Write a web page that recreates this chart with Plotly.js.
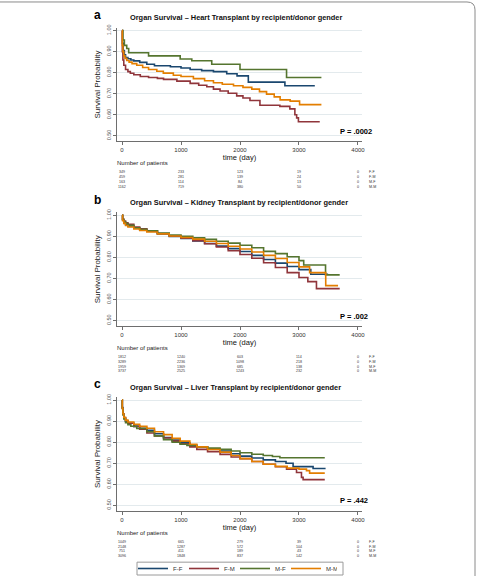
<!DOCTYPE html>
<html>
<head>
<meta charset="utf-8">
<script src="https://cdn.plot.ly/plotly-3.0.1.min.js"></script>
<style>
  html, body { margin: 0; padding: 0; background: #ffffff; }
  #chart { width: 477px; height: 583px; }
</style>
</head>
<body>
<div id="chart"></div>
<script>
// Recipient/donor gender groups and their line colours
const groups = ['F-F', 'F-M', 'M-F', 'M-M'];
const colors = ['#1a476f', '#90353b', '#55752f', '#e37e00'];
const organs = ['Heart', 'Kidney', 'Liver'];
const panelLetters = ['a', 'b', 'c'];
const pValues = ['P = .0002', 'P = .002', 'P = .442'];
const riskTimes = [0, 1000, 2000, 3000, 4000];
const yTicks = [0.5, 0.6, 0.7, 0.8, 0.9, 1.0];
const xTicks = [0, 1000, 2000, 3000, 4000];

// Heart transplant: Kaplan-Meier step points (time in days, survival)
const heartT_FF = [0, 8, 20, 40, 60, 100, 150, 200, 300, 420, 550, 820, 1000, 1155, 1350, 1550, 1775, 1950, 2141, 2761, 3268];
const heartS_FF = [1.0, 0.94, 0.905, 0.885, 0.872, 0.866, 0.86, 0.856, 0.849, 0.84, 0.833, 0.828, 0.822, 0.815, 0.81, 0.805, 0.795, 0.785, 0.755, 0.738, 0.738];
const heartT_FM = [0, 5, 15, 30, 60, 100, 141, 200, 310, 450, 600, 704, 930, 1155, 1300, 1437, 1550, 1662, 1800, 1944, 2050, 2169, 2338, 2676, 2845, 2930, 2960, 2990, 3352];
const heartS_FM = [1.0, 0.9, 0.86, 0.835, 0.815, 0.805, 0.797, 0.79, 0.782, 0.777, 0.773, 0.768, 0.76, 0.749, 0.74, 0.733, 0.722, 0.713, 0.702, 0.69, 0.68, 0.668, 0.645, 0.64, 0.628, 0.6, 0.585, 0.567, 0.567];
const heartT_MF = [0, 15, 40, 80, 113, 450, 986, 1183, 1521, 2000, 2789, 3380];
const heartS_MF = [1.0, 0.955, 0.93, 0.915, 0.895, 0.88, 0.865, 0.857, 0.84, 0.815, 0.777, 0.777];
const heartT_MM = [0, 5, 15, 30, 50, 80, 120, 170, 250, 350, 450, 590, 700, 870, 1000, 1210, 1400, 1550, 1700, 1890, 2050, 2200, 2330, 2450, 2580, 2680, 2850, 3010, 3380];
const heartS_MM = [1.0, 0.93, 0.9, 0.88, 0.868, 0.858, 0.85, 0.843, 0.835, 0.825, 0.815, 0.807, 0.798, 0.788, 0.782, 0.772, 0.762, 0.752, 0.745, 0.738, 0.73, 0.722, 0.71, 0.698, 0.685, 0.671, 0.665, 0.648, 0.648];

// Kidney transplant
const kidneyT_FF = [0, 10, 30, 60, 100, 200, 300, 420, 600, 800, 1000, 1200, 1400, 1600, 1800, 2000, 2200, 2400, 2600, 2800, 3000, 3200, 3480];
const kidneyS_FF = [1.0, 0.978, 0.966, 0.957, 0.95, 0.94, 0.932, 0.925, 0.912, 0.9, 0.89, 0.878, 0.866, 0.854, 0.842, 0.828, 0.81, 0.79, 0.773, 0.757, 0.742, 0.72, 0.717];
const kidneyT_FM = [0, 10, 30, 60, 100, 200, 300, 420, 600, 800, 1000, 1200, 1400, 1600, 1800, 2000, 2200, 2400, 2600, 2800, 3000, 3150, 3296, 3690];
const kidneyS_FM = [1.0, 0.982, 0.973, 0.965, 0.958, 0.945, 0.936, 0.927, 0.914, 0.902, 0.892, 0.879, 0.865, 0.85, 0.832, 0.814, 0.796, 0.775, 0.752, 0.728, 0.705, 0.685, 0.652, 0.652];
const kidneyT_MF = [0, 10, 30, 60, 100, 200, 300, 420, 600, 800, 1000, 1200, 1400, 1600, 1800, 2000, 2200, 2400, 2600, 2800, 3000, 3080, 3450, 3690];
const kidneyS_MF = [1.0, 0.98, 0.97, 0.961, 0.953, 0.941, 0.934, 0.927, 0.916, 0.907, 0.9, 0.893, 0.886, 0.877, 0.868, 0.858, 0.846, 0.829, 0.818, 0.803, 0.785, 0.764, 0.717, 0.717];
const kidneyT_MM = [0, 10, 30, 60, 100, 200, 300, 420, 600, 800, 1000, 1200, 1400, 1600, 1800, 2000, 2200, 2400, 2600, 2800, 3000, 3180, 3453, 3662];
const kidneyS_MM = [1.0, 0.975, 0.962, 0.952, 0.945, 0.935, 0.928, 0.921, 0.912, 0.902, 0.895, 0.887, 0.877, 0.866, 0.853, 0.84, 0.826, 0.81, 0.795, 0.776, 0.755, 0.728, 0.666, 0.666];

// Liver transplant
const liverT_FF = [0, 5, 15, 30, 60, 100, 200, 300, 422, 550, 704, 850, 986, 1150, 1268, 1450, 1662, 1850, 2000, 2200, 2394, 2600, 2780, 2900, 3239, 3437];
const liverS_FF = [1.0, 0.965, 0.935, 0.915, 0.9, 0.89, 0.875, 0.866, 0.857, 0.84, 0.822, 0.81, 0.797, 0.785, 0.778, 0.768, 0.758, 0.745, 0.734, 0.725, 0.716, 0.708, 0.7, 0.684, 0.675, 0.672];
const liverT_FM = [0, 5, 15, 30, 60, 100, 200, 300, 422, 550, 704, 850, 986, 1150, 1268, 1450, 1662, 1850, 2000, 2200, 2394, 2600, 2789, 2958, 3042, 3070, 3437];
const liverS_FM = [1.0, 0.962, 0.935, 0.915, 0.9, 0.89, 0.875, 0.862, 0.844, 0.83, 0.82, 0.805, 0.792, 0.778, 0.766, 0.755, 0.742, 0.73, 0.722, 0.708, 0.695, 0.683, 0.672, 0.656, 0.633, 0.622, 0.622];
const liverT_MF = [0, 5, 15, 30, 60, 100, 150, 250, 422, 550, 704, 850, 986, 1100, 1268, 1450, 1662, 1850, 2000, 2200, 2394, 2550, 2676, 3437];
const liverS_MF = [1.0, 0.96, 0.93, 0.91, 0.893, 0.883, 0.876, 0.865, 0.85, 0.83, 0.812, 0.8, 0.79, 0.785, 0.778, 0.772, 0.766, 0.758, 0.75, 0.743, 0.737, 0.732, 0.726, 0.726];
const liverT_MM = [0, 5, 15, 30, 60, 100, 200, 300, 422, 550, 704, 850, 986, 1150, 1268, 1450, 1662, 1850, 2000, 2200, 2394, 2600, 2800, 3000, 3127, 3180, 3437];
const liverS_MM = [1.0, 0.96, 0.935, 0.918, 0.905, 0.896, 0.885, 0.875, 0.866, 0.85, 0.836, 0.818, 0.805, 0.79, 0.778, 0.765, 0.753, 0.737, 0.722, 0.708, 0.695, 0.685, 0.677, 0.672, 0.665, 0.653, 0.653];

// Number of patients at risk at 0, 1000, 2000, 3000, 4000 days
const heartRisk_FF = [349, 233, 123, 19, 0];
const heartRisk_FM = [459, 281, 139, 24, 0];
const heartRisk_MF = [163, 114, 84, 13, 0];
const heartRisk_MM = [1162, 719, 380, 50, 0];
const kidneyRisk_FF = [1812, 1240, 603, 114, 0];
const kidneyRisk_FM = [3289, 2236, 1098, 218, 0];
const kidneyRisk_MF = [1959, 1369, 685, 138, 0];
const kidneyRisk_MM = [3737, 2525, 1243, 232, 0];
const liverRisk_FF = [1049, 665, 279, 39, 0];
const liverRisk_FM = [2148, 1287, 572, 104, 0];
const liverRisk_MF = [751, 411, 189, 43, 0];
const liverRisk_MM = [3096, 1848, 837, 142, 0];

const curveTimes = [
  [heartT_FF, heartT_FM, heartT_MF, heartT_MM],
  [kidneyT_FF, kidneyT_FM, kidneyT_MF, kidneyT_MM],
  [liverT_FF, liverT_FM, liverT_MF, liverT_MM]
];
const curveSurv = [
  [heartS_FF, heartS_FM, heartS_MF, heartS_MM],
  [kidneyS_FF, kidneyS_FM, kidneyS_MF, kidneyS_MM],
  [liverS_FF, liverS_FM, liverS_MF, liverS_MM]
];
const riskTables = [
  [heartRisk_FF, heartRisk_FM, heartRisk_MF, heartRisk_MM],
  [kidneyRisk_FF, kidneyRisk_FM, kidneyRisk_MF, kidneyRisk_MM],
  [liverRisk_FF, liverRisk_FM, liverRisk_MF, liverRisk_MM]
];

// Page geometry helpers (pixel -> paper fraction)
const W = 477, H = 583;
const px = v => v / W;
const py = v => 1 - v / H;
const panelStep = 187;
const FONT = 'Liberation Sans, Arial, Helvetica, sans-serif';

const traces = [];
const annotations = [];
const layout = {
  width: W, height: H,
  margin: { l: 0, r: 0, t: 0, b: 0 },
  paper_bgcolor: '#ffffff',
  plot_bgcolor: '#ffffff',
  font: { family: FONT, color: '#222' },
  showlegend: true,
  hovermode: false,
  legend: {
    orientation: 'h',
    x: px(133), xanchor: 'left',
    y: py(575.5), yanchor: 'middle',
    font: { family: FONT, size: 6, color: '#333' },
    bgcolor: 'rgba(0,0,0,0)',
    borderwidth: 0,
    entrywidthmode: 'pixels',
    entrywidth: 6,
    traceorder: 'normal'
  },
  shapes: [
    // page frame with rounded top-right corner
    {
      type: 'path', xref: 'paper', yref: 'paper',
      path: `M 0 ${py(2)} L ${px(467)} ${py(2)} Q ${px(475)} ${py(2)} ${px(475)} ${py(10)} L ${px(475)} 0`,
      line: { color: '#8a8a8a', width: 1 }
    },
    // legend frame
    {
      type: 'rect', xref: 'paper', yref: 'paper',
      x0: px(137), x1: px(343), y0: py(582), y1: py(569),
      line: { color: '#9a9a9a', width: 1 }
    }
  ],
  annotations: annotations
};

for (let p = 0; p < 3; p++) {
  const off = p * panelStep;
  const sfx = p === 0 ? '' : String(p + 1);
  const xName = 'xaxis' + sfx, yName = 'yaxis' + sfx;
  const xRef = 'x' + sfx, yRef = 'y' + sfx;

  layout[xName] = {
    domain: [px(117), px(362)],
    range: [-85, 4068],
    anchor: yRef,
    showline: true, linecolor: '#6e6e6e', linewidth: 1,
    ticks: 'outside', ticklen: 3, tickcolor: '#6e6e6e', tickwidth: 1,
    tickmode: 'array', tickvals: xTicks, ticktext: xTicks.map(String),
    tickfont: { family: FONT, size: 6, color: '#333' },
    showgrid: false, zeroline: false, automargin: false,
    title: { text: 'time (day)', font: { family: FONT, size: 7.5, color: '#111' }, standoff: 1 }
  };
  layout[yName] = {
    domain: [py(143 + off), py(28 + off)],
    range: [0.474, 1.014],
    anchor: xRef,
    showline: true, linecolor: '#6e6e6e', linewidth: 1,
    ticks: 'outside', ticklen: 3, tickcolor: '#6e6e6e', tickwidth: 1,
    tickmode: 'array', tickvals: yTicks, ticktext: yTicks.map(v => v.toFixed(2)),
    tickangle: -90,
    tickfont: { family: FONT, size: 5.5, color: '#555' },
    showgrid: true, gridcolor: '#e3eaed', gridwidth: 1,
    zeroline: false, automargin: false,
    title: { text: 'Survival Probability', font: { family: FONT, size: 8, color: '#222' }, standoff: 3 }
  };

  // survival curves
  for (let g = 0; g < 4; g++) {
    traces.push({
      type: 'scatter', mode: 'lines',
      x: curveTimes[p][g], y: curveSurv[p][g],
      xaxis: xRef, yaxis: yRef,
      line: { color: colors[g], width: 1.6, shape: 'hv' },
      name: groups[g], legendgroup: groups[g],
      showlegend: p === 2
    });
  }

  // panel letter and title
  annotations.push({
    xref: 'paper', yref: 'paper', x: px(97), y: py(15 + off),
    xanchor: 'center', yanchor: 'middle', showarrow: false,
    text: '<b>' + panelLetters[p] + '</b>',
    font: { family: FONT, size: 12, color: '#000' }
  });
  annotations.push({
    xref: 'paper', yref: 'paper', x: px(128), y: py(18 + off),
    xanchor: 'left', yanchor: 'middle', showarrow: false,
    text: '<b>Organ Survival \u2013 ' + organs[p] + ' Transplant by recipient/donor gender</b>',
    font: { family: FONT, size: 7.4, color: '#111' }
  });
  // log-rank p-value
  annotations.push({
    xref: 'paper', yref: 'paper', x: px(338), y: py(133 + off),
    xanchor: 'left', yanchor: 'middle', showarrow: false,
    text: '<b>' + pValues[p] + '</b>',
    font: { family: FONT, size: 7.5, color: '#000' }
  });
  // number-at-risk table
  annotations.push({
    xref: 'paper', yref: 'paper', x: px(116), y: py(165 + off),
    xanchor: 'left', yanchor: 'middle', showarrow: false,
    text: 'Number of patients', borderpad: 0,
    font: { family: FONT, size: 6, color: '#222' }
  });
  for (let g = 0; g < 4; g++) {
    const rowY = py(174.5 + off + 4.8 * g);
    riskTables[p][g].forEach((n, i) => {
      annotations.push({
        xref: xRef, yref: 'paper', x: riskTimes[i], y: rowY,
        xanchor: 'center', yanchor: 'middle', showarrow: false,
        text: String(n), borderpad: 0,
        font: { family: FONT, size: 3.6, color: '#333' }
      });
    });
    annotations.push({
      xref: 'paper', yref: 'paper', x: px(368), y: rowY,
      xanchor: 'left', yanchor: 'middle', showarrow: false,
      text: groups[g], borderpad: 0,
      font: { family: FONT, size: 3.6, color: '#333' }
    });
  }
}

Plotly.newPlot('chart', traces, layout, { staticPlot: true, displayModeBar: false });
</script>
</body>
</html>
